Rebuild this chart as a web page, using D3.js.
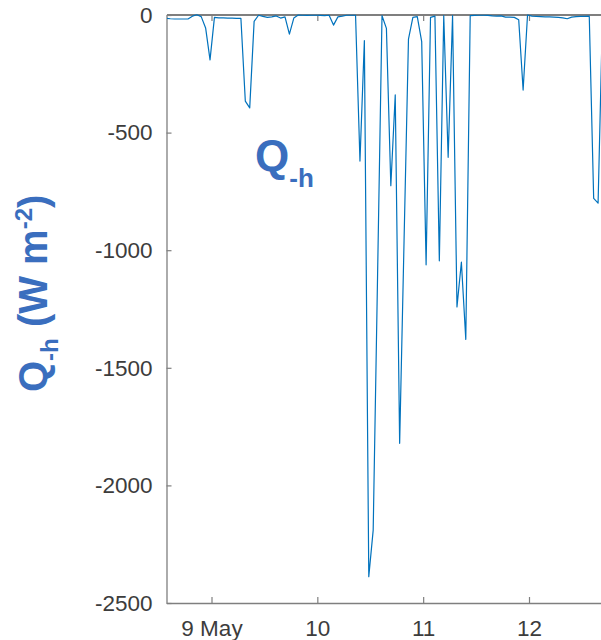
<!DOCTYPE html>
<head>
  <meta charset="utf-8">
  <script src="https://d3js.org/d3.v7.min.js"></script>
  <style>
    body { margin:0; background:#fff; }
    .tickText { font-family: "Liberation Sans", Arial, sans-serif; font-size: 22.5px; fill: #3c3c3c; }
    .qlabel { font-family: "Liberation Sans", Arial, sans-serif; font-weight: bold; fill: #3a6ebe; }
  </style>
</head>
<body>
<script>
// hourly sensible heat flux samples, first one at 8 May 13:40
var startTime = new Date(2019, 4, 8, 13, 40);
var qh = [-14,-16,-17,-17,-17,-17,-5,1,-7,-55,
          -191,-10,-12,-12,-13,-13,-14,-14,-366,-395,
          -27,-1,-6,-10,-8,-4,-13,-8,-81,-13,
          0,-1,-2,-1,-1,-2,-3,-1,-43,-8,
          -5,-1,-1,-1,-621,-109,-2388,-2190,-1100,-3,
          -57,-726,-340,-1821,-960,-103,-10,-7,-113,-1062,
          -10,-5,-1045,-3,-605,-3,-1241,-1051,-1379,-3,
          -2,-1,-1,-2,-4,-5,-4,-9,-9,-10,
          -20,-319,0,-5,-6,-7,-8,-8,-9,-10,
          -12,-16,-9,-7,-6,-6,-5,-780,-800,0];
var yTicks = [0, -500, -1000, -1500, -2000, -2500];
var xTickDays = [9, 10, 11, 12];
var xTickLabels = ["9 May", "10", "11", "12"];

var width = 601, height = 640;
var plotLeft = 167, plotTop = 15, plotBottom = 603;

var svg = d3.select("body").append("svg")
    .attr("width", width).attr("height", height);

var x = d3.scaleTime()
    .domain([new Date(2019, 4, 9), new Date(2019, 4, 12)])
    .range([211.5, 529]);
var y = d3.scaleLinear().domain([-2500, 0]).range([plotBottom, plotTop]);

var data = qh.map(function(v, i) { return {t: d3.timeHour.offset(startTime, i), v: v}; });

svg.append("clipPath").attr("id", "plotClip")
  .append("rect").attr("x", plotLeft).attr("y", plotTop - 2)
  .attr("width", width - plotLeft).attr("height", plotBottom - plotTop + 4);

var xTickDates = xTickDays.map(function(d) { return new Date(2019, 4, d); });

// bottom axis
var xAxisG = svg.append("g").attr("transform", "translate(0," + plotBottom + ")")
  .call(d3.axisBottom(x).tickValues(xTickDates).tickSizeInner(-6).tickSizeOuter(0)
        .tickPadding(14).tickFormat(function(d, i) { return xTickLabels[i]; }));
xAxisG.select(".domain").attr("d", "M" + plotLeft + ",0.5H" + width);

// top axis
var topG = svg.append("g").attr("transform", "translate(0," + plotTop + ")")
  .call(d3.axisTop(x).tickValues(xTickDates).tickSizeInner(-6).tickSizeOuter(0).tickFormat(""));
topG.select(".domain").attr("d", "M" + plotLeft + ",0H" + width);

// left axis
var yAxisG = svg.append("g").attr("transform", "translate(" + (plotLeft - 0.5) + ",0)")
  .call(d3.axisLeft(y).tickValues(yTicks).tickSizeInner(-5).tickSizeOuter(0).tickPadding(14)
        .tickFormat(function(d) { return String(d); }));

[xAxisG, topG, yAxisG].forEach(function(g) {
  g.selectAll(".domain").attr("stroke", "#7f7f7f").attr("stroke-width", 1.3);
  g.selectAll(".tick line").attr("stroke", "#7f7f7f").attr("stroke-width", 1.2);
  g.selectAll(".tick text").attr("class", "tickText").attr("font-family", null).attr("font-size", null);
});
xAxisG.selectAll(".tick text").attr("dy", null).attr("y", 33);
topG.select(".domain").attr("stroke-width", 2);

// the series
var line = d3.line().x(function(d) { return x(d.t); }).y(function(d) { return y(d.v); });
svg.append("path").datum(data)
  .attr("clip-path", "url(#plotClip)")
  .attr("d", line)
  .attr("fill", "none")
  .attr("stroke", "#0072BD")
  .attr("stroke-width", 1.2)
  .attr("stroke-linejoin", "round");

// annotation
var ann = svg.append("text").attr("class", "qlabel").attr("x", 255).attr("y", 171);
ann.append("tspan").attr("font-size", 44).text("Q");
ann.append("tspan").attr("font-size", 26).attr("dy", 16).text("-h");

// y label
var yl = svg.append("text").attr("class", "qlabel")
  .attr("transform", "translate(47,392) rotate(-90)");
yl.append("tspan").attr("font-size", 40).text("Q");
yl.append("tspan").attr("font-size", 24).attr("dy", 11).text("-h");
yl.append("tspan").attr("font-size", 40).attr("dy", -11).text(" (W m");
yl.append("tspan").attr("font-size", 24).attr("dy", -15).text("-2");
yl.append("tspan").attr("font-size", 40).attr("dy", 15).text(")");
</script>
</body>
